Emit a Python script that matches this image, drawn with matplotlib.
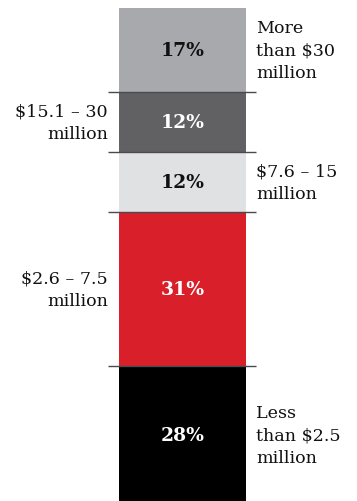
import matplotlib
matplotlib.use("Agg")
import matplotlib.pyplot as plt

# Share of companies by revenue band, stacked bottom to top
bands = ["Less\nthan $2.5\nmillion", "$2.6 – 7.5\nmillion", "$7.6 – 15\nmillion",
         "$15.1 – 30\nmillion", "More\nthan $30\nmillion"]
shares = [28, 31, 12, 12, 17]
fills = ["#000000", "#d9202a", "#e0e1e3", "#616163", "#a8a9ac"]
value_colors = ["white", "white", "#111111", "white", "#111111"]
label_sides = ["right", "left", "right", "left", "right"]

W, H = 357, 502
fig = plt.figure(figsize=(W / 100, H / 100), dpi=100)
ax = fig.add_axes([0, -4 / H, 1, 497 / H])
ax.set_xlim(0, W)
ax.set_ylim(0, 100)
ax.axis("off")

bar_x0, bar_x1 = 119, 246
bar_w = bar_x1 - bar_x0
bottom = 0
for i, (band, share, fc) in enumerate(zip(bands, shares, fills)):
    ax.bar(bar_x0, share, width=bar_w, bottom=bottom, align="edge",
           color=fc, linewidth=0, zorder=1)
    mid = bottom + share / 2
    ax.text(bar_x0 + bar_w / 2, mid, f"{share}%", ha="center", va="center",
            color=value_colors[i], fontsize=13.5, fontweight="heavy",
            family="DejaVu Serif", zorder=3)
    if label_sides[i] == "right":
        ax.text(256, mid, band, ha="left", va="center", fontsize=12.6,
                family="DejaVu Serif", color="#111111", linespacing=1.42,
                multialignment="left")
    else:
        ax.text(108, mid, band, ha="right", va="center", fontsize=12.6,
                family="DejaVu Serif", color="#111111", linespacing=1.42,
                multialignment="right")
    bottom += share
    if i < len(shares) - 1:
        ax.plot([108, 256], [bottom, bottom], color="#4a4a4c", lw=1.0,
                zorder=2, solid_capstyle="butt")

fig.savefig("out.png", dpi=100)
